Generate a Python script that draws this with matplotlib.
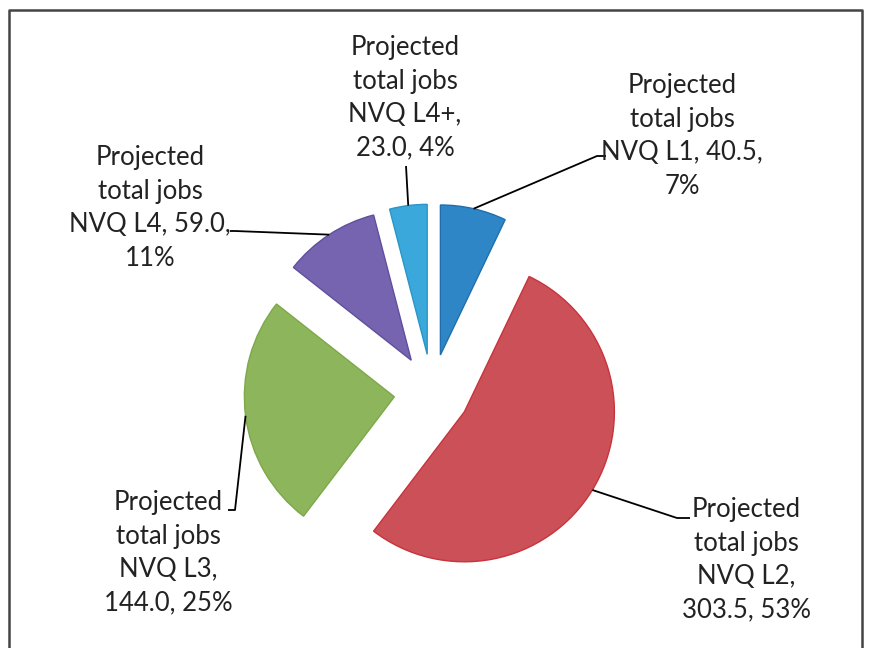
import numpy as np
import matplotlib
matplotlib.use("Agg")
import matplotlib.pyplot as plt

# Werte aus dem Diagramm
categories = ["NVQ L1", "NVQ L2", "NVQ L3", "NVQ L4", "NVQ L4+"]
jobs = [40.5, 303.5, 144.0, 59.0, 23.0]
percent_labels = [7, 53, 25, 11, 4]   # so im Original beschriftet (Excel-Rundung)
colors = ["#2f86c6", "#cc5058", "#8db55b", "#7664b0", "#3aa8da"]
edges = ["#1f6fae", "#c8333b", "#7ea84a", "#5f4f9c", "#2a96c8"]

# Layout in Bildpixeln (y nach unten)
CX, CY, R = 432, 392, 150
EXPLODE = 0.253

# Position der Beschriftung (Mitte), Knick der Linie, Ende der Linie
label_pos = [(682, 136), (746, 560), (168, 553), (150, 208), (405, 98)]
elbow_pos = [(597, 156), (677, 518), (235, 510), (235, 231), (406, 166)]
end_pos = [(606, 156), (690, 518), (228, 510), (230, 231), (406, 166)]


def px(x, y):
    """ Bildpixel in Datenkoordinaten umrechnen """
    return (x - CX) / R, (CY - y) / R


fig = plt.figure(figsize=(8.79, 6.48), dpi=100)
ax = fig.add_axes([0, 0, 1, 1])

wedges, _ = ax.pie(jobs, colors=colors, startangle=90, counterclock=False,
                   explode=[EXPLODE] * len(jobs), radius=1, center=(0, 0),
                   wedgeprops=dict(linewidth=1.0))
for w, ec in zip(wedges, edges):
    w.set_edgecolor(ec)

for i, w in enumerate(wedges):
    pct = percent_labels[i]
    if categories[i] in ("NVQ L1", "NVQ L4"):
        txt = f"Projected\ntotal jobs\n{categories[i]}, {jobs[i]:.1f},\n{pct}%"
    else:
        txt = f"Projected\ntotal jobs\n{categories[i]},\n{jobs[i]:.1f}, {pct}%"
    # Ankerpunkt in der Mitte des Bogens
    mid = np.deg2rad((w.theta1 + w.theta2) / 2)
    ax_x = w.center[0] + w.r * np.cos(mid)
    ax_y = w.center[1] + w.r * np.sin(mid)
    ex, ey = px(*elbow_pos[i])
    tx, ty = px(*end_pos[i])
    ax.plot([ax_x, ex, tx], [ax_y, ey, ty], color="black", lw=1.3,
            solid_capstyle="butt")
    lx, ly = px(*label_pos[i])
    ax.text(lx, ly, txt, ha="center", va="center", fontsize=18.5,
            family=["Lato", "DejaVu Sans"], color="#222222", linespacing=1.42)

# Rahmen des Diagramms
x0, y0 = px(9, 10)
x1, _ = px(862, 10)
_, yb = px(9, 660)
ax.plot([x0, x0, x1, x1], [yb, y0, y0, yb], color="#444444", lw=1.8)

xl0, yl0 = px(0, 648)
xl1, yl1 = px(879, 0)
ax.set_xlim(xl0, xl1)
ax.set_ylim(yl0, yl1)
ax.set_aspect("auto")
ax.axis("off")

fig.savefig("out.png", dpi=100)
